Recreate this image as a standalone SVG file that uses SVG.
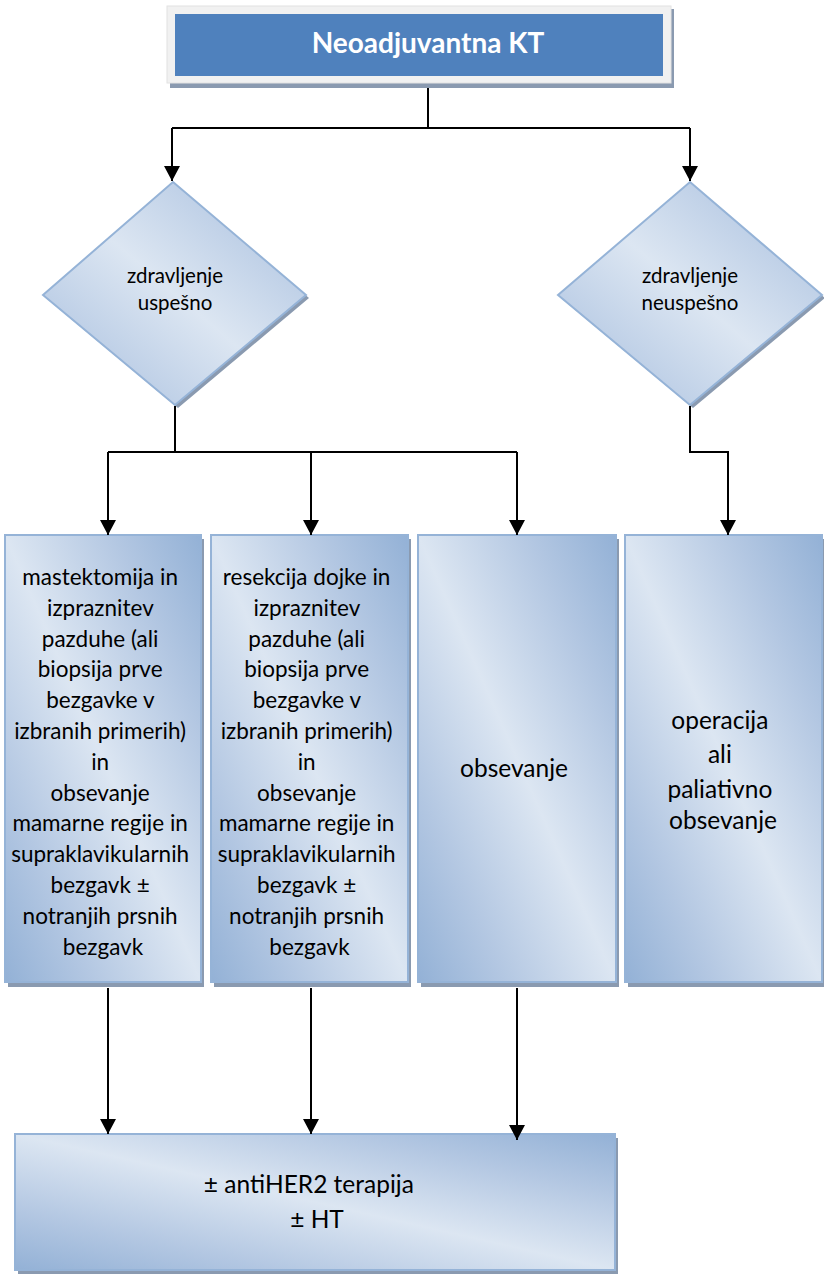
<svg xmlns="http://www.w3.org/2000/svg" width="824" height="1277" viewBox="0 0 824 1277">
<defs>
<linearGradient id="gBox" x1="1" y1="0" x2="0" y2="1">
<stop offset="0" stop-color="#93b1d6"/>
<stop offset="0.22" stop-color="#b3c7e2"/>
<stop offset="0.5" stop-color="#dce6f2"/>
<stop offset="0.78" stop-color="#b3c7e2"/>
<stop offset="1" stop-color="#93b1d6"/>
</linearGradient>
<linearGradient id="gDia" x1="1" y1="0" x2="0" y2="1">
<stop offset="0.15" stop-color="#b4c8e3"/>
<stop offset="0.5" stop-color="#dce6f2"/>
<stop offset="0.85" stop-color="#b4c8e3"/>
</linearGradient>
<marker id="arr" markerUnits="userSpaceOnUse" markerWidth="16" markerHeight="16" viewBox="0 0 15 16" refX="15" refY="8" orient="auto">
<path d="M0,0 L15,8 L0,16 Z" fill="#000"/>
</marker>
</defs>
<style>
.sh{fill:#8a9ab0}
.box{fill:url(#gBox);stroke:#95b3d7;stroke-width:2}
.dia{fill:url(#gDia);stroke:#95b3d7;stroke-width:2}
.t{font-family:Lato,"Open Sans",sans-serif;fill:#000;text-anchor:middle}
.c{fill:none;stroke:#000;stroke-width:2}
</style>

<g id="n-start">
<rect x="170" y="9" width="504" height="79" fill="#8a9ab0"/>
<rect x="167" y="6" width="504" height="77" fill="#f1f1f1" stroke="#e2e2e2" stroke-width="1"/>
<rect x="175" y="14" width="488" height="62" fill="#4f81bd"/>
<text x="428" y="53" font-family="Lato,'Open Sans',sans-serif" font-weight="bold" font-size="28" fill="#fff" text-anchor="middle">Neoadjuvantna KT</text>
</g>

<g id="n-uspesno">
<polygon class="sh" points="176,185 309,298 178,408 46,298"/>
<polygon class="dia" points="173,182 306,295 175,405 43,295"/>
<text class="t" font-size="20.5"><tspan x="175" y="283">zdravljenje</tspan><tspan x="175" y="310">uspešno</tspan></text>
</g>

<g id="n-neuspesno">
<polygon class="sh" points="693,185 825,298 693,408 561,298"/>
<polygon class="dia" points="690,182 822,295 690,405 558,295"/>
<text class="t" font-size="20.5"><tspan x="690" y="283">zdravljenje</tspan><tspan x="690" y="310">neuspešno</tspan></text>
</g>

<g id="n-mastektomija">
<rect class="sh" x="8" y="539" width="196" height="448"/>
<rect class="box" x="5" y="535" width="196" height="447"/>
<text class="t" font-size="22.5">
<tspan x="103" y="585">mastektomija in</tspan>
<tspan x="103" y="616">izpraznitev</tspan>
<tspan x="103" y="647">pazduhe (ali</tspan>
<tspan x="103" y="677">biopsija prve</tspan>
<tspan x="103" y="708">bezgavke v</tspan>
<tspan x="103" y="739">izbranih primerih)</tspan>
<tspan x="103" y="770">in</tspan>
<tspan x="103" y="801">obsevanje</tspan>
<tspan x="103" y="831">mamarne regije in</tspan>
<tspan x="103" y="862">supraklavikularnih</tspan>
<tspan x="103" y="893">bezgavk ±</tspan>
<tspan x="103" y="924">notranjih prsnih</tspan>
<tspan x="103" y="955">bezgavk</tspan>
</text>
</g>

<g id="n-resekcija">
<rect class="sh" x="214" y="539" width="197" height="448"/>
<rect class="box" x="211" y="535" width="197" height="447"/>
<text class="t" font-size="22.5">
<tspan x="309.5" y="585">resekcija dojke in</tspan>
<tspan x="309.5" y="616">izpraznitev</tspan>
<tspan x="309.5" y="647">pazduhe (ali</tspan>
<tspan x="309.5" y="677">biopsija prve</tspan>
<tspan x="309.5" y="708">bezgavke v</tspan>
<tspan x="309.5" y="739">izbranih primerih)</tspan>
<tspan x="309.5" y="770">in</tspan>
<tspan x="309.5" y="801">obsevanje</tspan>
<tspan x="309.5" y="831">mamarne regije in</tspan>
<tspan x="309.5" y="862">supraklavikularnih</tspan>
<tspan x="309.5" y="893">bezgavk ±</tspan>
<tspan x="309.5" y="924">notranjih prsnih</tspan>
<tspan x="309.5" y="955">bezgavk</tspan>
</text>
</g>

<g id="n-obsevanje">
<rect class="sh" x="421" y="539" width="198" height="448"/>
<rect class="box" x="418" y="535" width="198" height="447"/>
<text class="t" font-size="24.5" x="514" y="777">obsevanje</text>
</g>

<g id="n-operacija">
<rect class="sh" x="628" y="539" width="197" height="448"/>
<rect class="box" x="625" y="535" width="197" height="447"/>
<text class="t" font-size="24.5">
<tspan x="723" y="729">operacija</tspan>
<tspan x="723" y="763">ali</tspan>
<tspan x="723" y="798">paliativno</tspan>
<tspan x="723" y="829">obsevanje</tspan>
</text>
</g>

<g id="n-antiher2">
<rect class="sh" x="18" y="1138" width="600" height="136"/>
<rect class="box" x="15" y="1134" width="600" height="136"/>
<text class="t" font-size="24.5">
<tspan x="312" y="1193">± antiHER2 terapija</tspan>
<tspan x="317" y="1228">± HT</tspan>
</text>
</g>

<g id="connectors">
<path class="c" d="M428,88 V128 M172,128 H690"/>
<path class="c" d="M172,128 V181" marker-end="url(#arr)"/>
<path class="c" d="M690,128 V181" marker-end="url(#arr)"/>
<path class="c" d="M175,406 V452 M108,452 H517"/>
<path class="c" d="M108,452 V535" marker-end="url(#arr)"/>
<path class="c" d="M311,452 V535" marker-end="url(#arr)"/>
<path class="c" d="M517,452 V535" marker-end="url(#arr)"/>
<path class="c" d="M690,406 V452 H728 V535" marker-end="url(#arr)"/>
<path class="c" d="M108,988 V1134" marker-end="url(#arr)"/>
<path class="c" d="M311,988 V1134" marker-end="url(#arr)"/>
<path class="c" d="M517,988 V1140" marker-end="url(#arr)"/>
</g>
</svg>
